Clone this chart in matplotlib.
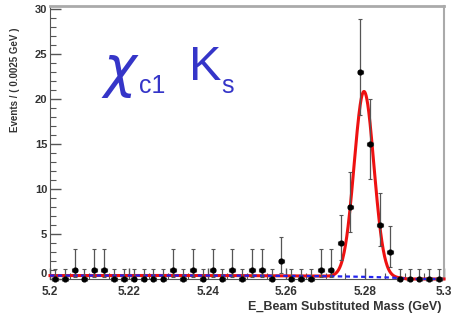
import numpy as np
import matplotlib
matplotlib.use("Agg")
import matplotlib.pyplot as plt

# ---- data ----
bin_lo = 5.2
bin_width = 0.0025
counts = [0, 0, 1, 0, 1, 1, 0, 0, 0, 0,
          0, 0, 1, 0, 1, 0, 1, 0, 1, 0,
          1, 1, 0, 2, 0, 0, 0, 1, 1, 4,
          8, 23, 15, 6, 3, 0, 0, 0, 0, 0]
# asymmetric (Poisson) error sizes per count value
err_low_by_count = {0: 0.0, 1: 0.83, 2: 1.29, 3: 1.63, 4: 1.91, 6: 2.38, 8: 2.77, 15: 3.83, 23: 4.77}
err_high_by_count = {0: 1.15, 1: 2.30, 2: 2.64, 3: 2.92, 4: 3.16, 6: 3.58, 8: 3.94, 15: 4.97, 23: 5.86}

# fit model parameters (signal Gaussian + ARGUS-like background)
sig_mean = 5.2797
sig_sigma = 0.0025
sig_peak = 20.6
bkg_level = 0.38
bkg_endpoint = 5.2905
bkg_shape = -20.0

x_ticks = [5.2, 5.22, 5.24, 5.26, 5.28, 5.3]
x_tick_labels = ["5.2", "5.22", "5.24", "5.26", "5.28", "5.3"]
y_ticks = [0, 5, 10, 15, 20, 25, 30]

# ---- figure ----
W, H = 451, 321
fig = plt.figure(figsize=(W / 100, H / 100), dpi=100)
ax = fig.add_axes([50 / W, 1 - 279 / H, (444 - 50) / W, (279 - 5.5) / H])

centers = bin_lo + bin_width * (np.arange(len(counts)) + 0.5)
yv = np.array(counts, dtype=float)
elo = np.array([err_low_by_count[c] for c in counts])
ehi = np.array([err_high_by_count[c] for c in counts])

def bkg(m):
    r = 1 - (m / bkg_endpoint) ** 2
    r = np.clip(r, 0, None)
    ref = 1 - (5.2 / bkg_endpoint) ** 2
    norm = 5.2 * np.sqrt(ref) * np.exp(bkg_shape * ref)
    return bkg_level * m * np.sqrt(r) * np.exp(bkg_shape * r) / norm

m = np.linspace(5.2, 5.3, 1200)
b = bkg(m)
total = b + sig_peak * np.exp(-0.5 * ((m - sig_mean) / sig_sigma) ** 2)

ax.plot(m, total, color="#ee1111", lw=2.2, zorder=3, clip_on=False)
ax.plot(m, b, color="#2222ee", lw=1.6, ls=(0, (2, 1.5)), zorder=4, clip_on=False)

ax.errorbar(centers, yv, yerr=[elo, ehi], xerr=0.0007, fmt="o", ms=3.4,
            color="black", ecolor="#555555", elinewidth=0.9, capsize=1.5,
            capthick=0.8, zorder=5, clip_on=False)

ax.set_xlim(5.2, 5.3)
ax.set_ylim(0, 30.4)
ax.set_xticks(x_ticks)
ax.set_xticklabels(x_tick_labels)
ax.set_yticks(y_ticks)
ax.set_yticks(np.arange(0, 30.5, 1), minor=True)
ax.set_xticks(np.arange(5.2, 5.3001, 0.005), minor=True)

ax.tick_params(axis="both", which="major", direction="in", length=8, width=1,
               color="#555555", labelsize=8.5, labelcolor="#333333", pad=2)
ax.tick_params(axis="both", which="minor", direction="in", length=4, width=0.8,
               color="#555555")
ax.tick_params(axis="x", which="major", pad=5)
ax.tick_params(axis="y", which="major", labelsize=8)
for lbl in ax.get_xticklabels() + ax.get_yticklabels():
    lbl.set_fontweight("bold")
    lbl.set_family("Liberation Sans")
# the "0" label sits slightly above the axis corner, as in the reference
ax.get_yticklabels()[0].set_verticalalignment("bottom")

ax.spines["left"].set_color("#555555")
ax.spines["bottom"].set_color("#555555")
ax.spines["top"].set_color("#aaaaaa")
ax.spines["right"].set_color("#aaaaaa")
ax.spines["top"].set_linewidth(2)
ax.spines["right"].set_linewidth(1.5)

fig.text(15 / W, 1 - 80 / H, "Events / ( 0.0025 GeV )", rotation=90,
         ha="center", va="center", fontsize=7, color="#333333",
         family="Liberation Sans", fontweight="bold")
fig.text(442 / W, 1 - 307 / H, "E_Beam Substituted Mass (GeV)",
         ha="right", va="center", fontsize=9, color="#333333",
         family="Liberation Sans", fontweight="bold")

blue = "#3535c8"
fig.text(101 / W, 1 - 86 / H, r"$\chi$", fontsize=40, color=blue,
         ha="left", va="baseline")
fig.text(139 / W, 1 - 93 / H, "c1", fontsize=18, color=blue,
         family="Liberation Sans", ha="left", va="baseline")
fig.text(189 / W, 1 - 80 / H, "K", fontsize=35, color=blue,
         family="Liberation Sans", ha="left", va="baseline")
fig.text(221 / W, 1 - 93 / H, "s", fontsize=18, color=blue,
         family="Liberation Sans", ha="left", va="baseline")

fig.savefig("out.png", dpi=100)
